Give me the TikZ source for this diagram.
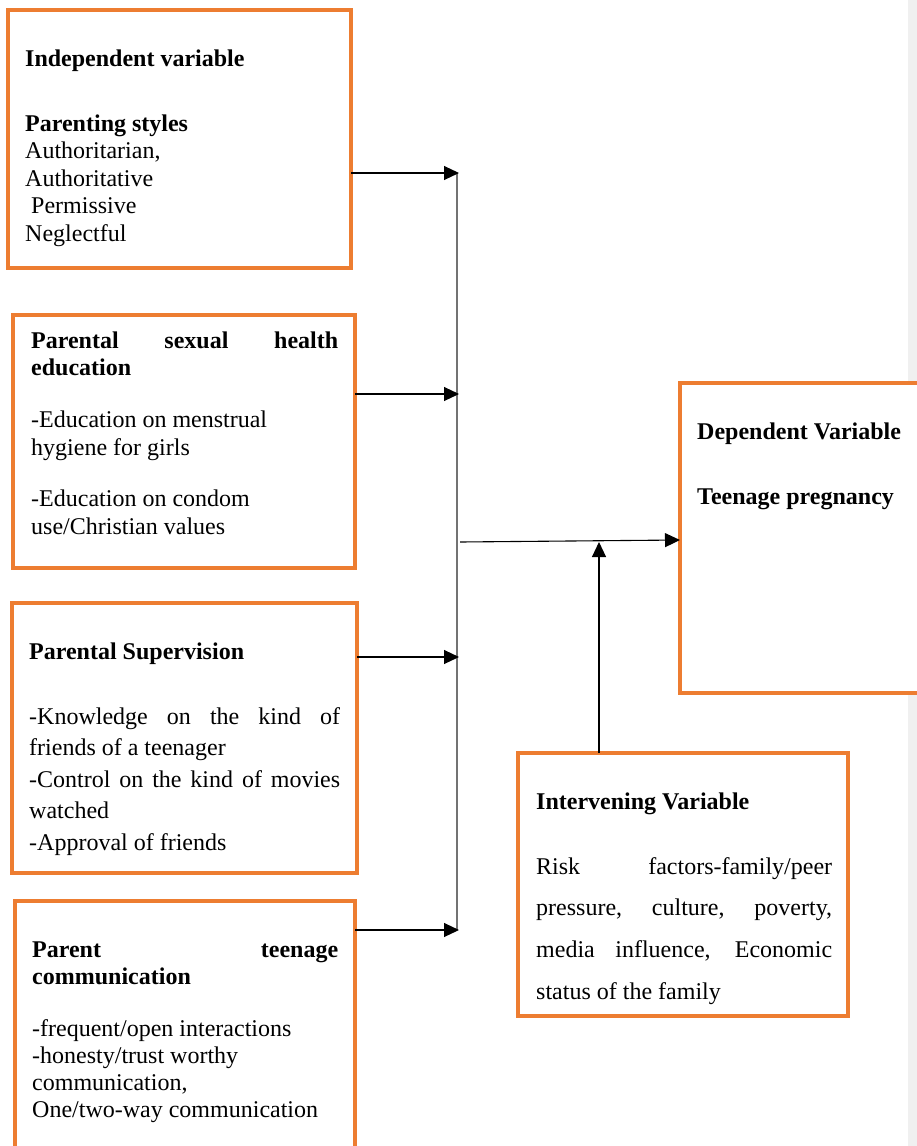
\documentclass[tikz,border=0pt]{standalone}
\usepackage{fontspec}
\setmainfont{Liberation Serif}
\usetikzlibrary{arrows.meta}
\definecolor{boxorange}{HTML}{ED7D31}
\definecolor{stripgray}{HTML}{F0F0F0}
\begin{document}
\begin{tikzpicture}[x=1pt,y=-1pt,
  box/.style={draw=boxorange, line width=3.5pt, fill=white, rectangle, inner sep=0pt, outer sep=0pt, anchor=north west},
  txt/.style={inner sep=0pt, anchor=base west, font=\fontsize{24}{27.5}\selectfont},
  arr/.style={draw=black, line width=1.1pt, -{Triangle[length=15pt,width=14pt]}},
  bus/.style={draw=black!55, line width=1.3pt}]
\useasboundingbox (0,0) rectangle (917,1146);
\fill[stripgray] (908,0) rectangle (917,1146);
% boxes
\node[box, minimum width=343pt, minimum height=258pt] (b1) at (8,10) {};
\node[box, minimum width=342pt, minimum height=253pt] (b2) at (13,315) {};
\node[box, minimum width=345pt, minimum height=270pt] (b3) at (12,603) {};
\node[box, minimum width=340pt, minimum height=275pt] (b4) at (15,901) {};
\node[box, minimum width=260pt, minimum height=310pt] (dep) at (680,383) {};
\node[box, minimum width=330pt, minimum height=263pt] (int) at (518,753) {};
% texts
\node[txt] (t1) at (25,66) {\parbox[t]{320pt}{\raggedright
  \textbf{Independent variable}\\[37.5pt]
  \textbf{Parenting styles}\\
  Authoritarian,\\
  Authoritative\\
  \hspace*{6pt}Permissive\\
  Neglectful}};
\node[txt] (t2) at (31,348) {\parbox[t]{307pt}{\raggedright
  \makebox[\linewidth][s]{\textbf{Parental sexual health}}\\
  \textbf{education}\\[24.5pt]
  -Education on menstrual\\
  hygiene for girls\\[24pt]
  -Education on condom\\
  use/Christian values}};
\node[txt, font=\fontsize{24}{31.5}\selectfont] (t3) at (29,659) {\parbox[t]{311pt}{\raggedright
  \textbf{Parental Supervision}\\[33.5pt]
  \makebox[\linewidth][s]{-Knowledge on the kind of}\\
  friends of a teenager\\
  \makebox[\linewidth][s]{-Control on the kind of movies}\\
  watched\\
  -Approval of friends}};
\node[txt, font=\fontsize{24}{27.2}\selectfont] (t4) at (32,957) {\parbox[t]{306pt}{\raggedright
  \makebox[\linewidth][s]{\textbf{Parent teenage}}\\
  \textbf{communication}\\[24.8pt]
  -frequent/open interactions\\
  -honesty/trust worthy\\
  communication,\\
  One/two-way communication}};
\node[txt] (t5) at (697,439) {\parbox[t]{220pt}{\raggedright
  \textbf{Dependent Variable}\\[37.5pt]
  \textbf{Teenage pregnancy}}};
\node[txt, font=\fontsize{24}{41.7}\selectfont] (t6) at (536,809) {\parbox[t]{296pt}{\raggedright
  \textbf{Intervening Variable}\\[23.3pt]
  \makebox[\linewidth][s]{Risk factors-family/peer}\\
  \makebox[\linewidth][s]{pressure, culture, poverty,}\\
  \makebox[\linewidth][s]{media influence, Economic}\\
  status of the family}};
% connector junctions
\coordinate (j1) at (459,173);
\coordinate (j2) at (459,394);
\coordinate (j3) at (459,657);
\coordinate (j4) at (459,930);
\coordinate (bustop) at (457,173);
\coordinate (busbot) at (457,930);
\coordinate (m) at (460,542);
\coordinate (mend) at (680,540);
\coordinate (ip) at (599,542);
% connectors
\draw[bus] (bustop) -- (busbot);
\draw[arr] (b1.east |- j1) -- (j1);
\draw[arr] (b2.east |- j2) -- (j2);
\draw[arr] (b3.east |- j3) -- (j3);
\draw[arr] (b4.east |- j4) -- (j4);
\draw[arr] (m) -- (dep.west |- mend);
\draw[arr] (int.north -| ip) -- (ip);
\end{tikzpicture}
\end{document}
